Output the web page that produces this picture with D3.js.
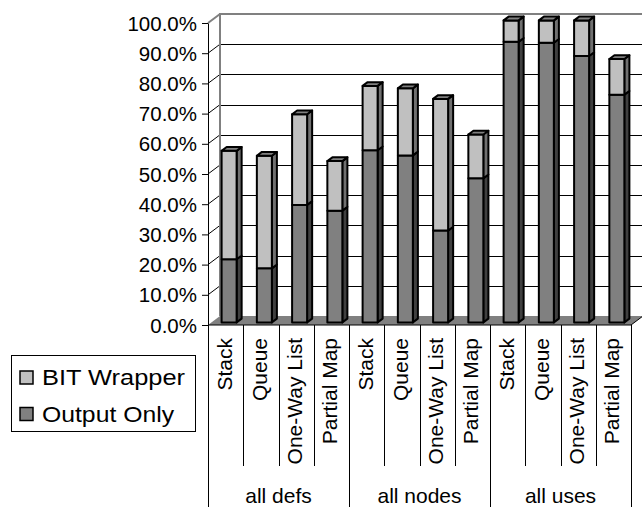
<!DOCTYPE html>
<html>
<head>
<meta charset="utf-8">
<script src="https://cdn.jsdelivr.net/npm/d3@7"></script>
<style>
  html, body { margin: 0; padding: 0; background: #fff; }
  svg { display: block; }
  text { font-family: "Liberation Sans", Arial, sans-serif; fill: #000; }
</style>
</head>
<body>
<svg id="chart" width="642" height="508"></svg>
<script>
// Coverage per criterion and structure (percent)
const groups = ["all defs", "all nodes", "all uses"];
const structures = ["Stack", "Queue", "One-Way List", "Partial Map"];
const outputOnly = [20.9, 17.9, 38.9, 37.0, 57.0, 55.3, 30.4, 47.7, 92.9, 92.6, 88.2, 75.4];
const bitWrapper = [35.9, 37.3, 30.0, 16.4, 21.3, 22.2, 43.6, 14.5, 7.1, 7.4, 11.8, 11.8];
const yTicks = [0, 10, 20, 30, 40, 50, 60, 70, 80, 90, 100];
const seriesNames = ["BIT Wrapper", "Output Only"];

const rows = [];
groups.forEach((g, gi) => structures.forEach((s, si) => {
  const i = gi * structures.length + si;
  rows.push({ key: i, group: g, name: s, output: outputOnly[i], bit: bitWrapper[i] });
}));

const svg = d3.select("#chart");

// Plot frame: front plane and depth vector of the 3D box
const x0 = 208, x1 = 631, yBase = 325, yTop = 23;
const depth = { dx: 12, dy: -9 };
const y = d3.scaleLinear().domain([0, 100]).range([yBase, yTop]);
const x = d3.scaleBand().domain(rows.map(d => d.key)).range([x0, x1]).paddingInner(0).paddingOuter(0);

// Back wall gridlines
const bw = svg.append("g");
yTicks.forEach(t => {
  if (t === 0 || t === 100) return;
  bw.append("line")
    .attr("x1", x0 + depth.dx).attr("x2", x1 + depth.dx)
    .attr("y1", Math.round(y(t) + depth.dy) + 0.5).attr("y2", Math.round(y(t) + depth.dy) + 0.5)
    .attr("stroke", "#000").attr("stroke-width", 1);
});
// Side wall diagonals from front ticks to back gridlines
yTicks.forEach(t => {
  if (t === 0) return;
  bw.append("line")
    .attr("x1", x0).attr("y1", y(t))
    .attr("x2", x0 + depth.dx).attr("y2", y(t) + depth.dy)
    .attr("stroke", t === 100 ? "#808080" : "#000").attr("stroke-width", t === 100 ? 2 : 1);
});
// Back wall border
bw.append("path")
  .attr("d", `M${x0 + depth.dx},${y(0) + depth.dy}V${y(100) + depth.dy}H${x1 + depth.dx}`)
  .attr("fill", "none").attr("stroke", "#808080").attr("stroke-width", 2);

// Floor
svg.append("path")
  .attr("d", `M${x0},${yBase}L${x1},${yBase}L${x1 + depth.dx},${yBase + depth.dy}L${x0 + depth.dx},${yBase + depth.dy}Z`)
  .attr("fill", "#808080");
svg.append("path")
  .attr("d", `M${x0},${yBase}L${x1},${yBase}L${x1 + depth.dx},${yBase + depth.dy}`)
  .attr("fill", "none").attr("stroke", "#000").attr("stroke-width", 1);

// Bars: front face, right side and top of each stacked segment
const barFrac0 = 0.29, barFrac1 = 0.71;
const bdx = depth.dx * (barFrac1 - barFrac0), bdy = depth.dy * (barFrac1 - barFrac0);
const faceW = 15;
const faceOff = x.bandwidth() / 2 - faceW / 2 + depth.dx * barFrac0;
const yShift = depth.dy * barFrac0;

const palette = {
  output: { front: "#808080", side: "#404040", top: "#555555" },
  bit: { front: "#c0c0c0", side: "#707070", top: "#808080" }
};

function segment(g, xl, v0, v1, col, withTop) {
  const yb = y(v0) + yShift, yt = y(v1) + yShift, xr = xl + faceW;
  const st = { stroke: "#000", "stroke-width": 2, "stroke-linejoin": "round" };
  const side = g.append("path")
    .attr("d", `M${xr},${yb}L${xr + bdx},${yb + bdy}L${xr + bdx},${yt + bdy}L${xr},${yt}Z`)
    .attr("fill", col.side);
  const front = g.append("rect")
    .attr("x", xl).attr("y", yt).attr("width", faceW).attr("height", yb - yt)
    .attr("fill", col.front);
  const els = [side, front];
  if (withTop) {
    els.push(g.append("path")
      .attr("d", `M${xl},${yt}L${xl + bdx},${yt + bdy}L${xr + bdx},${yt + bdy}L${xr},${yt}Z`)
      .attr("fill", col.top));
  }
  els.forEach(e => Object.entries(st).forEach(([k, v]) => e.attr(k, v)));
}

const bars = svg.append("g");
rows.forEach(d => {
  const g = bars.append("g");
  const xl = x(d.key) + faceOff;
  segment(g, xl, 0, d.output, palette.output, false);
  segment(g, xl, d.output, d.output + d.bit, palette.bit, true);
});

// Value axis on the front-left edge
const yAxis = d3.axisLeft(y).tickValues(yTicks).tickSize(6).tickSizeOuter(0)
  .tickFormat(d => d.toFixed(1) + "%");
const ya = svg.append("g").attr("transform", `translate(${x0},0)`).call(yAxis);
ya.select(".domain").attr("stroke", "#000").attr("stroke-width", 1);
ya.selectAll(".tick line").attr("stroke", "#000");
ya.selectAll(".tick text")
  .attr("x", -11).attr("dy", "0.35em")
  .style("font-size", "20.5px").style("font-family", "'Liberation Sans', Arial, sans-serif")
  .attr("fill", "#000");

// Category axis: structures (rotated) and criterion groups
const cat = svg.append("g");
const nS = structures.length;
rows.forEach((d, i) => {
  if (i === 0) return;
  const xb = Math.round(x(d.key)) + 0.5;
  const groupEdge = i % nS === 0;
  cat.append("line").attr("x1", xb).attr("x2", xb)
    .attr("y1", yBase).attr("y2", groupEdge ? 507 : 466)
    .attr("stroke", "#000").attr("stroke-width", 1);
});
[x0, x1].forEach(xb => {
  cat.append("line").attr("x1", Math.round(xb) + 0.5).attr("x2", Math.round(xb) + 0.5)
    .attr("y1", yBase).attr("y2", 507).attr("stroke", "#000").attr("stroke-width", 1);
});
cat.selectAll("text.sname").data(rows).join("text")
  .attr("class", "sname")
  .attr("transform", d => `translate(${x(d.key) + x.bandwidth() / 2 - 1.5},338) rotate(-90)`)
  .attr("text-anchor", "end").attr("dy", "0.36em")
  .style("font-size", "21px")
  .text(d => d.name);
cat.selectAll("text.gname").data(groups).join("text")
  .attr("class", "gname")
  .attr("x", (g, gi) => (x(gi * nS) + x(gi * nS + nS - 1) + x.bandwidth()) / 2)
  .attr("y", 503)
  .attr("text-anchor", "middle")
  .style("font-size", "21px")
  .text(g => g);

// Legend
const lg = svg.append("g");
lg.append("rect").attr("x", 11.5).attr("y", 355.5).attr("width", 184).attr("height", 76)
  .attr("fill", "#fff").attr("stroke", "#000").attr("stroke-width", 1);
const legendFill = { "BIT Wrapper": palette.bit.front, "Output Only": palette.output.front };
const legendLen = { "BIT Wrapper": 143, "Output Only": 132 };
seriesNames.forEach((s, i) => {
  const cy = 377.5 + i * 36.5;
  lg.append("rect").attr("x", 20).attr("y", cy - 6.5).attr("width", 13).attr("height", 13)
    .attr("fill", legendFill[s]).attr("stroke", "#000").attr("stroke-width", 1.5);
  lg.append("text").attr("x", 42).attr("y", cy).attr("dy", "0.36em")
    .style("font-size", "22px")
    .attr("textLength", legendLen[s]).attr("lengthAdjust", "spacingAndGlyphs")
    .text(s);
});
</script>
</body>
</html>
